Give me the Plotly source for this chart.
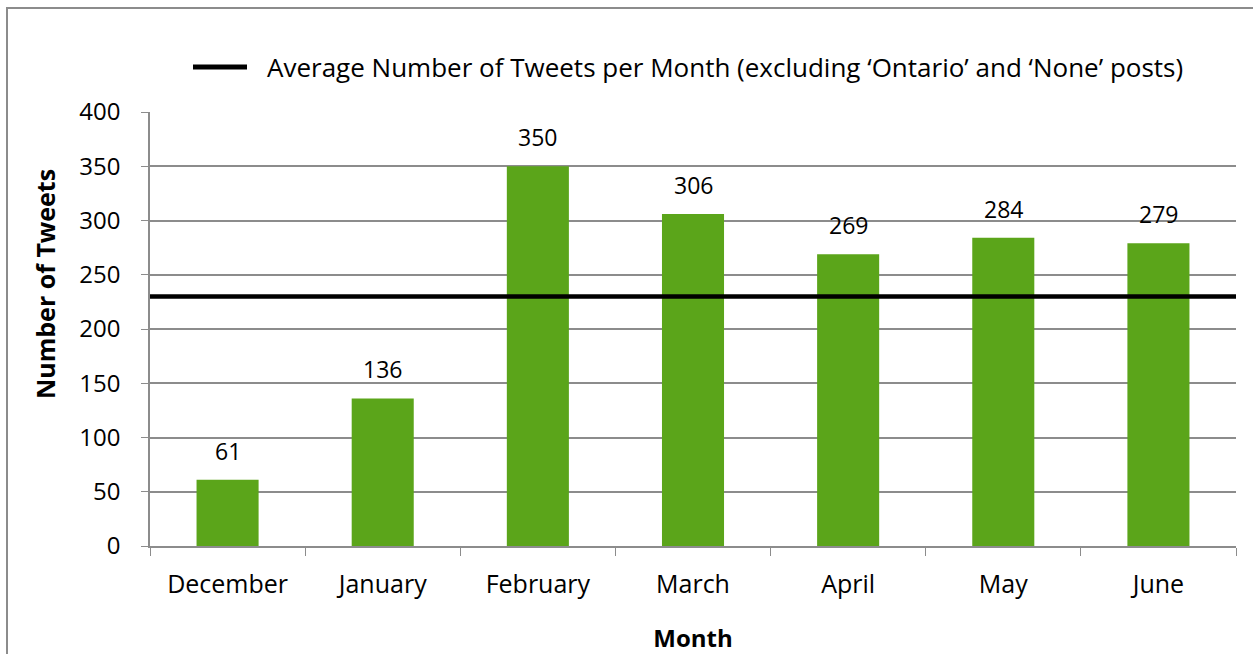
import plotly.graph_objects as go

months = ["December", "January", "February", "March", "April", "May", "June"]
tweets = [61, 136, 350, 306, 269, 284, 279]
average_tweets = 230
legend_label = "Average Number of Tweets per Month (excluding \u2018Ontario\u2019 and \u2018None\u2019 posts)"

FONT = "Open Sans"
W, H = 1253, 654
L, R, T, B = 150, 17, 112, 108
pw, ph = W - L - R, H - T - B
GRID = "#8C8C8C"

fig = go.Figure()
fig.add_trace(go.Bar(
    x=months, y=tweets, marker=dict(color="#5BA51A", line=dict(width=0)),
    showlegend=False, hoverinfo="x+y",
))
fig.add_trace(go.Scatter(
    x=[0, 1], y=[average_tweets, average_tweets], xaxis="x2", mode="lines",
    line=dict(color="black", width=4.5), name=legend_label, showlegend=False,
))

def px_x(p):
    return (p - L) / pw

def px_y(p):
    return (H - B - p) / ph

annotations = [dict(x=m, y=v, xref="x", yref="y", text=str(v), showarrow=False,
                    xanchor="center", yanchor="bottom", yshift=11,
                    font=dict(family=FONT, size=23, color="black"))
               for m, v in zip(months, tweets)]
annotations.append(dict(xref="paper", yref="paper", x=px_x(265), y=px_y(67),
                        xanchor="left", yanchor="middle", showarrow=False,
                        text=legend_label, font=dict(family=FONT, size=26, color="black")))
annotations.append(dict(xref="paper", yref="paper", x=px_x(45), y=px_y(284),
                        xanchor="center", yanchor="middle", showarrow=False, textangle=-90,
                        text="<b>Number of Tweets</b>", font=dict(family=FONT, size=25, color="black")))

fig.update_layout(
    width=W, height=H, margin=dict(l=L, r=R, t=T, b=B, autoexpand=False),
    paper_bgcolor="white", plot_bgcolor="white", bargap=0.6,
    font=dict(family=FONT, size=25, color="black"),
    xaxis=dict(showgrid=False, showline=True, linecolor=GRID, linewidth=1.5,
               ticks="outside", tickson="boundaries", ticklen=8, tickcolor=GRID,
               tickfont=dict(family=FONT, size=25), ticklabelstandoff=15, automargin=False,
               title=dict(text="<b>Month</b>", font=dict(family=FONT, size=24), standoff=32)),
    xaxis2=dict(overlaying="x", range=[0, 1], visible=False),
    yaxis=dict(range=[0, 400], dtick=50, showgrid=True, gridcolor=GRID, gridwidth=1.5,
               showline=True, linecolor=GRID, linewidth=1.5, automargin=False,
               ticks="outside", ticklen=7, tickcolor=GRID,
               tickfont=dict(family=FONT, size=24), ticklabelstandoff=16),
    showlegend=False,
    annotations=annotations,
    shapes=[
        dict(type="line", xref="paper", yref="paper", x0=px_x(193), x1=px_x(247),
             y0=px_y(67), y1=px_y(67), line=dict(color="black", width=5)),
        dict(type="rect", xref="paper", yref="paper",
             x0=px_x(7), x1=px_x(W + 20), y0=px_y(H + 20), y1=px_y(8),
             line=dict(color=GRID, width=2), layer="below"),
    ],
)
fig.write_html("out.html", config={"displayModeBar": False},
               post_script="document.body.style.margin='0px';")
